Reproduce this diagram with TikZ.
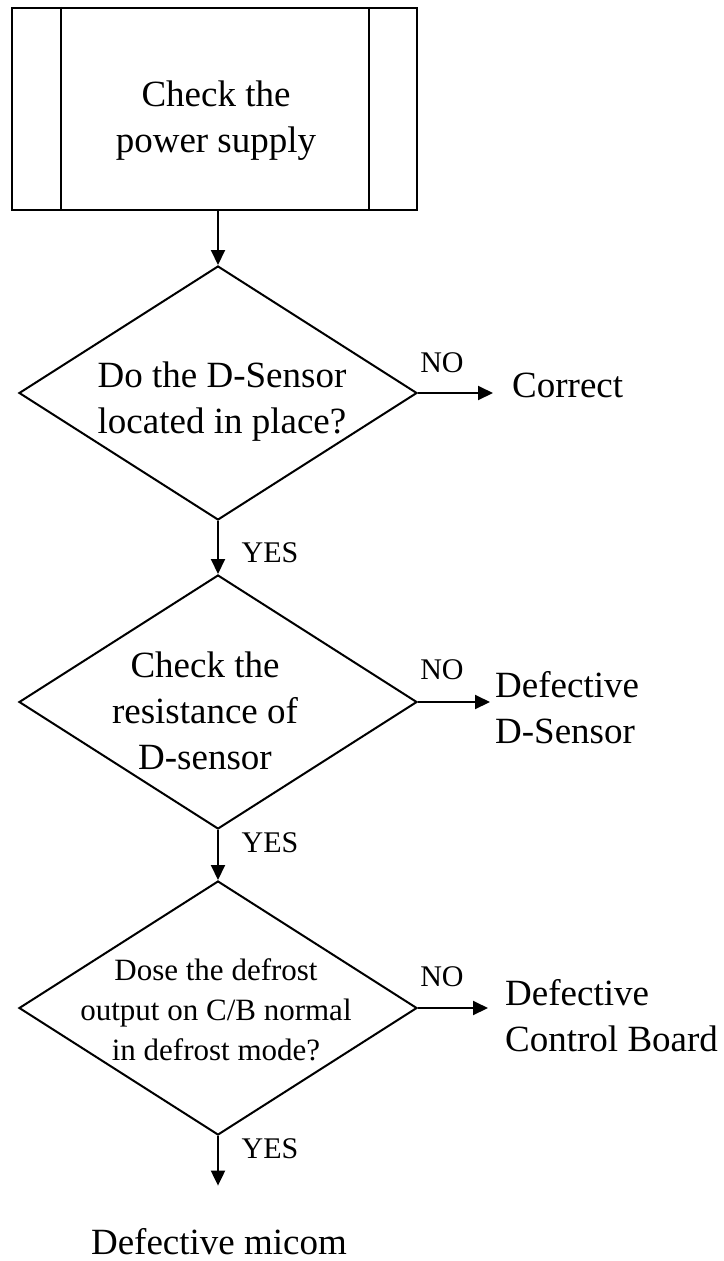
\documentclass[tikz,border=0pt]{standalone}
\usepackage{fontspec}
\setmainfont{Liberation Serif}
\usetikzlibrary{shapes.geometric,arrows.meta,positioning}
\tikzset{
	procbox/.style={draw,line width=2.5pt,minimum width=405pt,minimum height=202pt,inner sep=0pt},
	decision/.style={draw,diamond,line width=2pt,minimum width=398pt,minimum height=254pt,inner sep=0pt},
	bigtext/.style={inner sep=0pt,align=center,font=\fontsize{37}{46}\selectfont},
	smalltext/.style={inner sep=0pt,align=center,font=\fontsize{31}{40}\selectfont},
	tag/.style={inner sep=0pt,font=\fontsize{30}{36}\selectfont},
	flow/.style={line width=2pt,-{Triangle[length=15pt,width=14pt]}}
}
\begin{document}
\begin{tikzpicture}[x=1pt,y=-1pt]
	\useasboundingbox (0,0) rectangle (723,1261);
	\node[procbox] (pwr) at (214.5,109) {};
	\draw[line width=2pt] ([xshift=50pt]pwr.north west) -- ([xshift=50pt]pwr.south west);
	\draw[line width=2pt] ([xshift=-49pt]pwr.north east) -- ([xshift=-49pt]pwr.south east);
	\node[bigtext] (pwrtxt) at (216,121) {Check the\\power supply};

	\node[decision] (chk1) at (218,393) {};
	\node[bigtext] (chk1txt) at (222,402) {Do the D-Sensor\\located in place?};
	\node[decision] (chk2) at (218,702) {};
	\node[bigtext] (chk2txt) at (205,711) {Check the\\resistance of\\D-sensor};
	\node[decision] (chk3) at (218,1008) {};
	\node[smalltext] (chk3txt) at (216,1010) {Dose the defrost\\output on C/B normal\\in defrost mode?};

	\node[bigtext,anchor=west] (ok) at (512,385) {Correct};
	\node[bigtext,anchor=west,align=left] (badsens) at (495,708) {Defective\\D-Sensor};
	\node[bigtext,anchor=west,align=left] (badcb) at (505,1016) {Defective\\Control Board};
	\node[bigtext] (badmicom) at (219,1242) {Defective micom};

	\node[tag] (no1) at (442,363) {NO};
	\node[tag] (no2) at (442,670) {NO};
	\node[tag] (no3) at (442,977) {NO};
	\node[tag] (yes1) at (270,553) {YES};
	\node[tag] (yes2) at (270,843) {YES};
	\node[tag] (yes3) at (270,1149) {YES};

	\draw[flow] (pwr.south -| chk1.north) -- (chk1.north);
	\draw[flow] (chk1.south) -- (chk2.north);
	\draw[flow] (chk2.south) -- (chk3.north);
	\draw[flow,shorten >=43pt] (chk3.south) -- (badmicom.north -| chk3.south);
	\draw[flow,shorten >=19pt] (chk1.east) -- (ok.west |- chk1.east);
	\draw[flow,shorten >=5pt] (chk2.east) -- (badsens.west |- chk2.east);
	\draw[flow,shorten >=17pt] (chk3.east) -- (badcb.west |- chk3.east);
\end{tikzpicture}
\end{document}
